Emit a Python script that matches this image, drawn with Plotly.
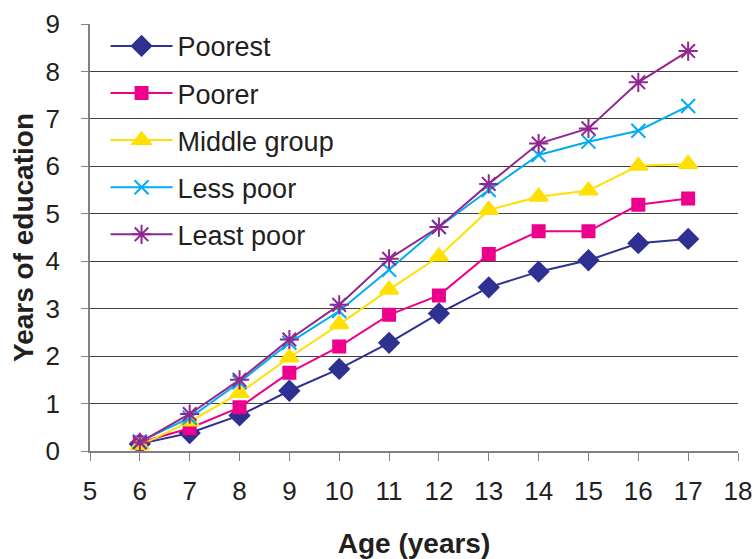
import plotly.graph_objects as go

ages = [6, 7, 8, 9, 10, 11, 12, 13, 14, 15, 16, 17]
poorest = [0.15, 0.38, 0.75, 1.27, 1.73, 2.28, 2.90, 3.45, 3.78, 4.02, 4.38, 4.47]
poorer = [0.18, 0.48, 0.92, 1.65, 2.20, 2.87, 3.28, 4.15, 4.63, 4.63, 5.19, 5.32]
middle = [0.12, 0.62, 1.22, 1.97, 2.67, 3.40, 4.10, 5.08, 5.36, 5.49, 6.01, 6.05]
less_poor = [0.20, 0.70, 1.45, 2.28, 2.95, 3.82, 4.72, 5.50, 6.24, 6.52, 6.75, 7.27]
least_poor = [0.18, 0.78, 1.50, 2.35, 3.08, 4.05, 4.72, 5.63, 6.48, 6.80, 7.77, 8.43]

series = [
    ("Poorest", poorest, "#2E3192", "diamond", 15),
    ("Poorer", poorer, "#EC008C", "square", 12),
    ("Middle group", middle, "#FFE000", "triangle-up", 16),
    ("Less poor", less_poor, "#00AEEF", "x-thin-open", 14),
    ("Least poor", least_poor, "#92278F", "asterisk-open", 16),
]

fig = go.Figure()
for i, (name, vals, color, sym, size) in enumerate(series):
    fig.add_trace(go.Scatter(
        x=ages, y=vals, name=name, mode="lines+markers",
        legendgroup=f"g{i}",
        line=dict(color=color, width=2),
        marker=dict(symbol=sym, size=size, color=color,
                    line=dict(color=color, width=2)),
    ))

font_family = "Liberation Sans, Arial, sans-serif"
fig.update_layout(
    width=753, height=559,
    margin=dict(l=90, r=15, t=24, b=108, autoexpand=False),
    paper_bgcolor="white", plot_bgcolor="white",
    font=dict(family=font_family, size=26, color="#231F20"),
    showlegend=True,
    legend=dict(
        x=0.024, y=1.005, xanchor="left", yanchor="top",
        bgcolor="rgba(0,0,0,0)", font=dict(size=27, color="#231F20"),
        traceorder="grouped", tracegroupgap=9, itemwidth=62,
    ),
    xaxis=dict(
        range=[5, 18], tickmode="linear", tick0=5, dtick=1,
        automargin=False,
        showgrid=False, showline=True, linecolor="#808080", linewidth=1.5,
        ticks="outside", ticklen=8, tickcolor="#808080",
        ticklabelstandoff=8,
        title=dict(text="<b>Age (years)</b>", standoff=34,
                   font=dict(size=28)),
        zeroline=False,
    ),
    yaxis=dict(
        range=[0, 9], tickmode="linear", tick0=0, dtick=1,
        automargin=False,
        showgrid=True, gridcolor="#404040", gridwidth=1,
        showline=True, linecolor="#808080", linewidth=1.5,
        ticks="outside", ticklen=7, tickcolor="#808080",
        ticklabelstandoff=16,
        title=dict(text="<b>Years of education</b>", standoff=4,
                   font=dict(size=28)),
        zeroline=False,
    ),
)

fig.write_html(
    "out.html",
    config={"displayModeBar": False},
    post_script="document.body.style.margin='0';document.body.style.padding='0';",
)
